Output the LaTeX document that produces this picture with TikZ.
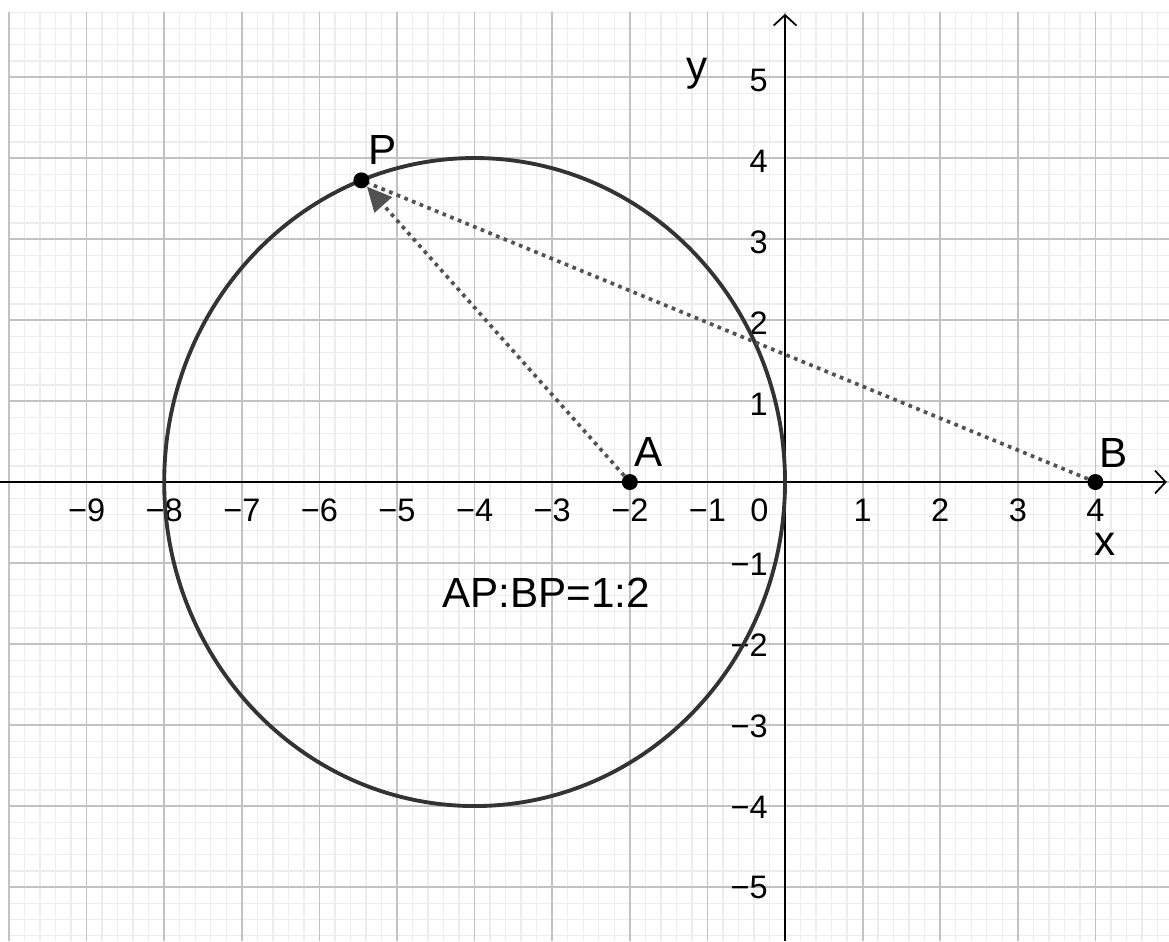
\documentclass[tikz,border=0pt]{standalone}
\usepackage{fontspec}
\setmainfont{Liberation Sans}
\usetikzlibrary{arrows.meta}
\begin{document}
\begin{tikzpicture}[x=1.552cm,y=1.62cm,
 minorgrid/.style={draw=black!7, line width=0.8pt},
 majorgrid/.style={draw=black!24, line width=1pt},
 axisline/.style={draw=black, line width=1pt, -{Straight Barb[length=6pt,width=13pt,line width=1pt]}},
 curve/.style={draw=black!80, line width=2.2pt},
 dotline/.style={draw=black!68, line width=2.1pt, dash pattern=on 2.1pt off 2.6pt},
 pt/.style={circle, fill=black, inner sep=0pt, minimum size=0.32cm},
 ticklbl/.style={font=\fontsize{18.5}{21}\selectfont, inner sep=0pt},
 lbl/.style={font=\fontsize{24}{28}\selectfont, inner sep=0pt}]
\useasboundingbox (-10.116,-5.667) rectangle (4.948,5.951);
% minor grid
\foreach \i in {-50,...,24} \draw[minorgrid] ({\i/5},-5.667) -- ({\i/5},5.8);
\foreach \j in {-28,...,29} \draw[minorgrid] (-10,{\j/5}) -- (4.948,{\j/5});
% major grid
\foreach \i in {-10,...,4} \draw[majorgrid] (\i,-5.667) -- (\i,5.8);
\foreach \j in {-5,...,5} \draw[majorgrid] (-10,\j) -- (4.948,\j);
% axes
\coordinate (xs) at (-10.116,0);
\coordinate (xe) at (4.92,0);
\coordinate (ys) at (0,-5.667);
\coordinate (ye) at (0,5.78);
\draw[axisline] (xs) -- (xe);
\draw[axisline] (ys) -- (ye);
% tick labels
\foreach \k in {-9,...,-1} \node[ticklbl] at (\k,-0.35) {−\the\numexpr-\k\relax};
\foreach \k in {1,...,4} \node[ticklbl] at (\k,-0.35) {\k};
\node[ticklbl] at (-0.33,-0.35) {0};
\foreach \k in {-5,...,-1} \node[ticklbl, anchor=east] at (-0.219,{\k-0.01}) {−\the\numexpr-\k\relax};
\foreach \k in {1,...,5} \node[ticklbl, anchor=east] at (-0.219,{\k-0.04}) {\k};
\node[lbl] (xl) at (4.124,-0.77) {x};
\node[lbl] (yl) at (-1.134,5.04) {y};
% circle
\draw[curve] (-4,0) circle[radius=4];
% points
\node[pt] (A) at (-2,0) {};
\node[pt] (B) at (4,0) {};
\node[pt] (P) at (-5.459,3.7245) {};
\draw[dotline, -{Triangle[length=14pt,width=13pt]}] (A) -- (P);
\draw[dotline] (B) -- (P);
\node[lbl] (Al) at (-1.759,0.37) {A};
\node[lbl] (Bl) at (4.24,0.36) {B};
\node[lbl] (Pl) at (-5.187,4.10) {P};
\node[lbl] (eq) at (-3.08,-1.364) {AP:BP=1:2};
\end{tikzpicture}
\end{document}
